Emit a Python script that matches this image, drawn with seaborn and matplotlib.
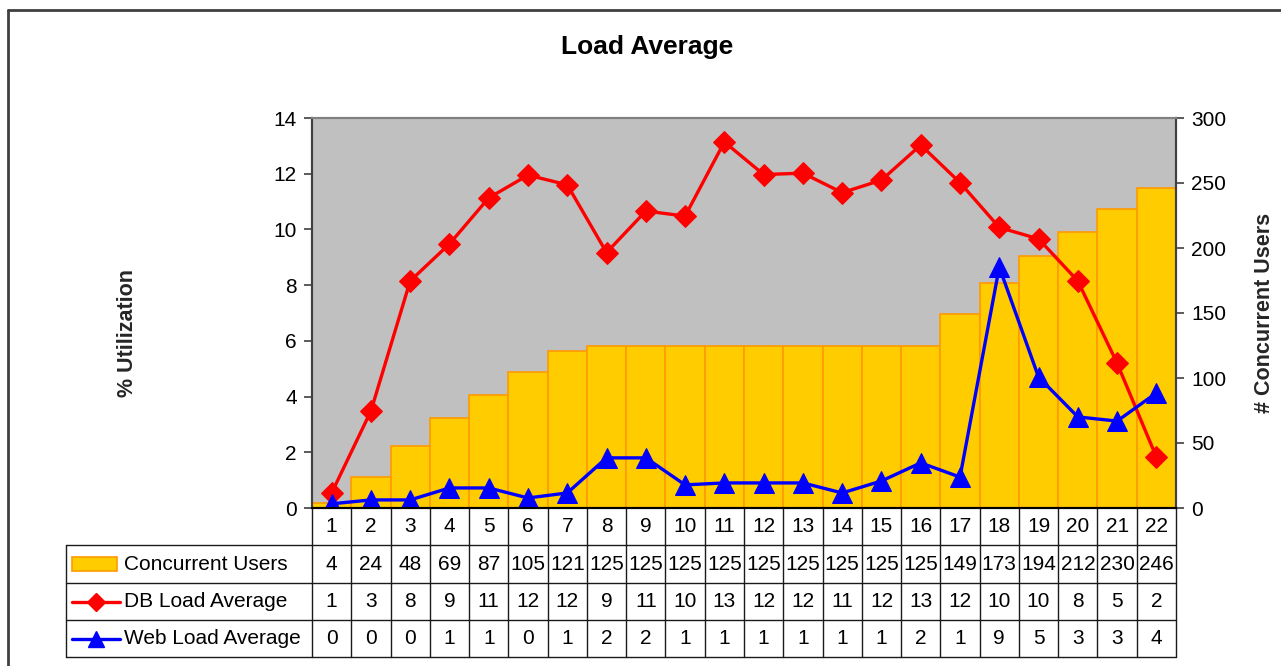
import numpy as np
import pandas as pd
import seaborn as sns
import matplotlib
matplotlib.use("Agg")
import matplotlib.pyplot as plt
from matplotlib.lines import Line2D
from matplotlib.patches import Rectangle
import matplotlib.transforms as mtransforms

# data
runs = [str(i) for i in range(1, 23)]
users = [4, 24, 48, 69, 87, 105, 121, 125, 125, 125, 125, 125, 125, 125, 125, 125,
         149, 173, 194, 212, 230, 246]
db_load = [0.54, 3.48, 8.15, 9.48, 11.13, 11.95, 11.6, 9.17, 10.66, 10.48, 13.14, 11.97,
           12.02, 11.32, 11.77, 13.03, 11.68, 10.07, 9.66, 8.15, 5.2, 1.83]
web_load = [0.15, 0.29, 0.29, 0.72, 0.72, 0.36, 0.54, 1.8, 1.8, 0.83, 0.9, 0.9,
            0.9, 0.54, 0.97, 1.62, 1.11, 8.65, 4.7, 3.27, 3.12, 4.13]

series_names = ["Concurrent Users", "DB Load Average", "Web Load Average"]

BAR_FACE = "#FFCC00"
BAR_EDGE = "#FF9900"
RED = "#FF0000"
BLUE = "#0000FF"
GRID = "#1a1a1a"
FS = 15

sns.set_style("ticks")
plt.rcParams["font.family"] = ["Liberation Sans", "DejaVu Sans"]
plt.rcParams["text.color"] = "black"

df = pd.DataFrame({"run": runs, "users": users, "db": db_load, "web": web_load})
df["pos"] = np.arange(len(df))

W, H = 1281, 666
fig = plt.figure(figsize=(W / 100, H / 100), dpi=100)
fig.patch.set_facecolor("white")

# plot area in pixels
L, R, T, B = 312, 1176, 118, 508
ax = fig.add_axes([L / W, 1 - B / H, (R - L) / W, (B - T) / H])
ax.set_facecolor("#C0C0C0")

sns.barplot(data=df, x="pos", y="users", ax=ax, color=BAR_FACE, edgecolor=BAR_EDGE,
            linewidth=1.2, width=1.0, saturation=1, native_scale=True)
for p in ax.patches:
    p.set_facecolor(BAR_FACE)

ax2 = ax.twinx()
sns.lineplot(data=df, x="pos", y="db", ax=ax2, color=RED, lw=2.4, marker="D",
             markersize=11, markeredgecolor=RED)
sns.lineplot(data=df, x="pos", y="web", ax=ax2, color=BLUE, lw=2.4, marker="^",
             markersize=14, markeredgecolor=BLUE)
if ax2.get_legend():
    ax2.get_legend().remove()

# users axis on the right, utilization on the left
ax.set_xlim(-0.5, len(df) - 0.5)
ax.set_ylim(0, 300)
ax.set_yticks(range(0, 301, 50))
ax.yaxis.tick_right()
ax.yaxis.set_label_position("right")
ax.set_ylabel("# Concurrent Users", fontsize=15.5, fontweight="bold")
ax.yaxis.set_label_coords((1254 - L) / (R - L), 0.5)
ax.set_xlabel("")
ax.set_xticks([])

ax2.set_ylim(0, 14)
ax2.set_yticks(range(0, 15, 2))
ax2.yaxis.tick_left()
ax2.yaxis.set_label_position("left")
ax2.set_ylabel("% Utilization", fontsize=15.5, fontweight="bold")
ax2.yaxis.set_label_coords((138 - L) / (R - L), 0.449)
ax2.set_xlabel("")
ax2.set_xticks([])

for a in (ax, ax2):
    a.tick_params(axis="y", labelsize=FS, length=6, width=1.2, color="#404040",
                  labelcolor="black", pad=5)
    for s in a.spines.values():
        s.set_color("#404040")
        s.set_linewidth(1.5)
    a.spines["top"].set_color("#808080")
    a.spines["bottom"].set_color("black")

# data table under the plot
tr = mtransforms.blended_transform_factory(ax.transData, ax.transAxes)
ta = ax.transAxes


def ay(px):
    return (B - px) / (B - T)


def axx(px):
    return (px - L) / (R - L)


rows_px = [508, 545, 583, 620, 657]
leg_left = axx(66)
line_kw = dict(color=GRID, lw=1.0, clip_on=False)

for y in rows_px[1:]:
    ax.add_line(Line2D([leg_left, 1], [ay(y)] * 2, transform=ta, **line_kw))
for k in range(len(df) + 1):
    ax.add_line(Line2D([k - 0.5] * 2, [ay(rows_px[0]), ay(rows_px[-1])],
                       transform=tr, **line_kw))
ax.add_line(Line2D([leg_left] * 2, [ay(rows_px[1]), ay(rows_px[-1])], transform=ta, **line_kw))

row_values = [df["run"].tolist(),
              [str(v) for v in users],
              [str(int(round(v))) for v in db_load],
              [str(int(round(v))) for v in web_load]]
for r, vals in enumerate(row_values):
    yc = ay((rows_px[r] + rows_px[r + 1]) / 2)
    for i, v in enumerate(vals):
        ax.text(i, yc, v, transform=tr, ha="center", va="center", fontsize=FS,
                clip_on=False)

# legend keys inside the table
for r, name in enumerate(series_names):
    yc = ay((rows_px[r + 1] + rows_px[r + 2]) / 2)
    ax.text(axx(124), yc, name, transform=ta, ha="left", va="center", fontsize=FS)
key_h = 14 / (B - T)
ax.add_patch(Rectangle((axx(72), ay((rows_px[1] + rows_px[2]) / 2) - key_h / 2),
                       axx(117) - axx(72), key_h, transform=ta, facecolor=BAR_FACE,
                       edgecolor=BAR_EDGE, lw=1.2, clip_on=False))
for r, col, mk, ms in [(2, RED, "D", 9), (3, BLUE, "^", 12)]:
    yc = ay((rows_px[r] + rows_px[r + 1]) / 2)
    ax.add_line(Line2D([axx(72), axx(120)], [yc, yc], transform=ta, color=col, lw=2.4,
                       clip_on=False))
    ax.add_line(Line2D([axx(96)], [yc], transform=ta, color=col, marker=mk,
                       markersize=ms, clip_on=False))

fig.text(647 / W, 1 - 47 / H, "Load Average", ha="center", va="center",
         fontsize=19, fontweight="bold")

# outer chart frame (cropped at right and bottom)
fig.add_artist(Line2D([8 / W, 8 / W], [1 - 10 / H, 0], transform=fig.transFigure,
                      color="#404040", lw=2))
fig.add_artist(Line2D([8 / W, 1], [1 - 10 / H, 1 - 10 / H], transform=fig.transFigure,
                      color="#404040", lw=2))

fig.savefig("out.png", dpi=100)
